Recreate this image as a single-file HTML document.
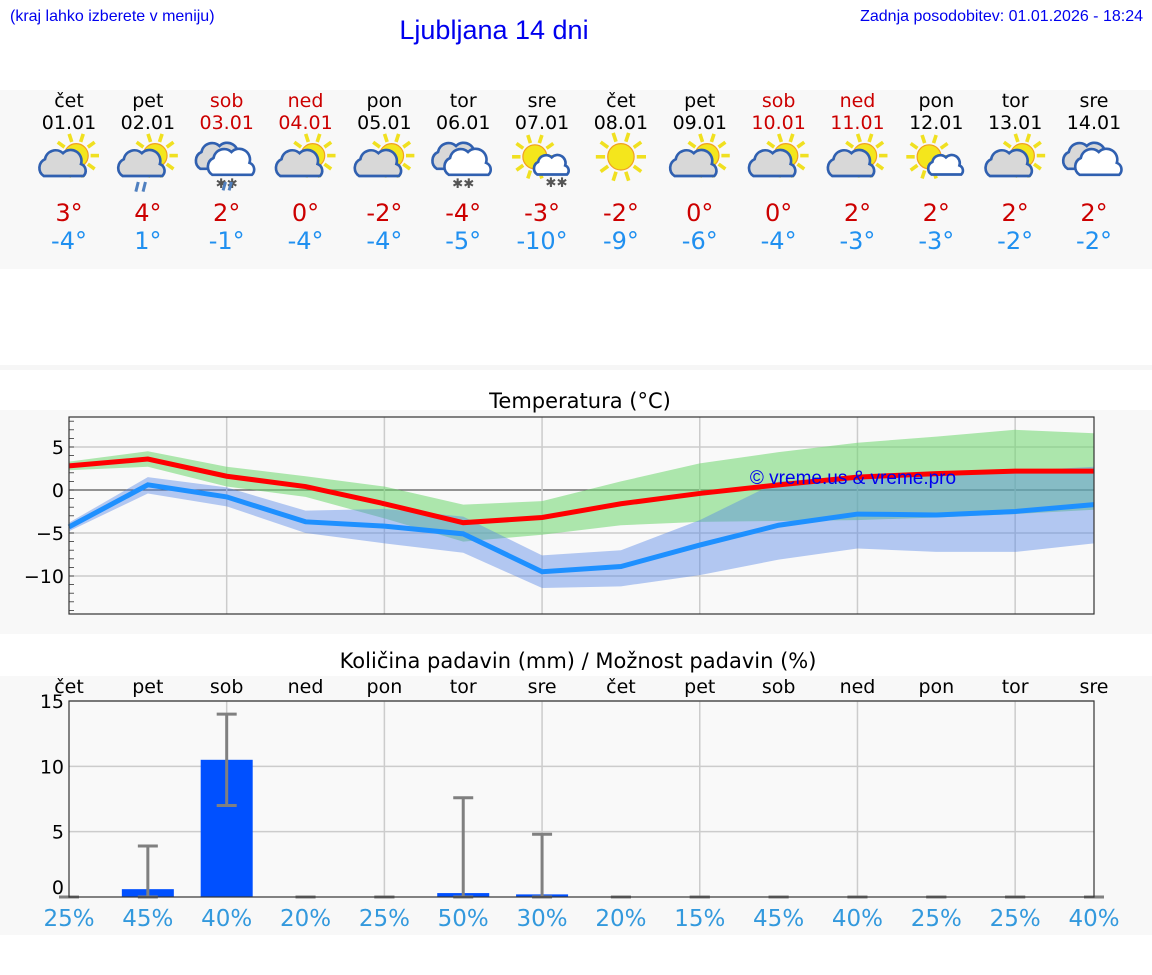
<!DOCTYPE html>
<html><head><meta charset="utf-8"><style>
body{margin:0;background:#fff;width:1152px;height:975px;overflow:hidden;font-family:"Liberation Sans","DejaVu Sans",sans-serif}
svg{display:block}
text{font-family:"DejaVu Sans","Liberation Sans",sans-serif}
.lib{font-family:"Liberation Sans",sans-serif}
</style></head><body>
<svg id="s" width="1152" height="975" viewBox="0 0 1152 975">
<rect x="0" y="90" width="1152" height="179" fill="#f8f8f8"/>
<rect x="0" y="365" width="1152" height="5" fill="#f6f6f6"/>
<rect x="0" y="410" width="1152" height="224" fill="#f8f8f8"/>
<rect x="0" y="676" width="1152" height="259" fill="#f8f8f8"/>
<text class="lib" x="10" y="21" font-size="16" fill="#0000ee">(kraj lahko izberete v meniju)</text>
<text class="lib" x="494" y="39" font-size="27" fill="#0000ee" text-anchor="middle">Ljubljana 14 dni</text>
<text class="lib" x="1143" y="21" font-size="16" fill="#0000ee" text-anchor="end">Zadnja posodobitev: 01.01.2026 - 18:24</text>
<text x="580" y="408" font-size="21" text-anchor="middle" fill="#000">Temperatura (°C)</text>
<text x="578" y="668" font-size="21" text-anchor="middle" fill="#000">Količina padavin (mm) / Možnost padavin (%)</text>
<g id="days"></g>
<g id="temp"></g>
<g id="prec"></g>
</svg>
<script>
const dayNames=['čet','pet','sob','ned','pon','tor','sre','čet','pet','sob','ned','pon','tor','sre'];
const dates=['01.01','02.01','03.01','04.01','05.01','06.01','07.01','08.01','09.01','10.01','11.01','12.01','13.01','14.01'];
const weekend=[0,0,1,1,0,0,0,0,0,1,1,0,0,0];
const icons=['pc','pcr','cs','pc','pc','cn','sn','s','pc','pc','pc','ps','pc','c'];
const maxT=[3,4,2,0,-2,-4,-3,-2,0,0,2,2,2,2];
const minT=[-4,1,-1,-4,-4,-5,-10,-9,-6,-4,-3,-3,-2,-2];
const tMax=[2.8,3.6,1.6,0.4,-1.6,-3.8,-3.2,-1.6,-0.4,0.6,1.5,1.9,2.2,2.2];
const tMaxHi=[3.3,4.5,2.7,1.6,0.4,-1.7,-1.3,1.0,3.1,4.4,5.5,6.2,7.0,6.6];
const tMaxLo=[2.3,2.7,0.4,-0.8,-3.3,-6.0,-5.2,-4.1,-3.7,-3.6,-3.5,-3.2,-2.8,-2.3];
const tMin=[-4.3,0.6,-0.8,-3.7,-4.2,-5.1,-9.5,-8.9,-6.4,-4.1,-2.8,-2.9,-2.5,-1.7];
const tMinHi=[-3.8,1.5,0.3,-2.4,-2.2,-3.1,-7.6,-7.0,-3.5,1.0,1.4,1.8,2.2,2.7];
const tMinLo=[-4.8,-0.4,-1.9,-5.0,-6.2,-7.3,-11.4,-11.2,-9.9,-8.1,-6.8,-7.2,-7.2,-6.2];
const tTicks=[5,0,-5,-10];
const precip=[0,0.6,10.5,0,0,0.3,0.2,0,0,0,0,0,0,0];
const errHi=[0,3.9,14,0,0,7.6,4.8,0,0,0,0,0,0,0];
const errLo=[0,0,7.0,0,0,0,0,0,0,0,0,0,0,0];
const chance=['25%','45%','40%','20%','25%','50%','30%','20%','15%','45%','40%','25%','25%','40%'];
const pTicks=[15,10,5,0];

const NS='http://www.w3.org/2000/svg';
function E(p,tag,a,txt){const e=document.createElementNS(NS,tag);for(const k in a)e.setAttribute(k,a[k]);if(txt!==undefined)e.textContent=txt;p.appendChild(e);return e;}
const X=i=>69+i*(1094-69)/13;
const TY=v=>490-v*8.6;
const PY=v=>897-v*(196/15);

const dg=document.getElementById('days');
function sun(g,cx,cy,r){
  for(let k=0;k<10;k++){const a=k*Math.PI/5;E(g,'line',{x1:cx+Math.cos(a)*r*1.2,y1:cy+Math.sin(a)*r*1.2,x2:cx+Math.cos(a)*r*1.9,y2:cy+Math.sin(a)*r*1.9,stroke:'#f0e020','stroke-width':3});}
  E(g,'circle',{cx:cx,cy:cy,r:r,fill:'#f4e61c',stroke:'#f0a020','stroke-width':1});
}
function cloud(g,cx,cy,s,fill){
  const q=v=>v*s;
  E(g,'path',{d:`M${cx-q(16)},${cy+q(9)} a${q(8)} ${q(8)} 0 0 1 ${q(1)},${q(-14)} a${q(9)} ${q(9)} 0 0 1 ${q(15)},${q(-5)} a${q(9)} ${q(9)} 0 0 1 ${q(15)},${q(9)} a${q(6)} ${q(6)} 0 0 1 ${q(2)},${q(10)} z`,fill:fill,stroke:'#3060b0','stroke-width':2.2});
}
function flakes(g,cx,cy){E(g,'text',{x:cx,y:cy,'font-size':11,fill:'#555','text-anchor':'middle'},'✱✱');}
for(let i=0;i<14;i++){
  const x=X(i),g=E(dg,'g',{});
  
  
  const col=weekend[i]?'#cc0000':'#000';
  E(g,'text',{x:x,y:107,'font-size':19,'text-anchor':'middle',fill:col},dayNames[i]);
  E(g,'text',{x:x,y:129,'font-size':19,'text-anchor':'middle',fill:col},dates[i]);
  const ic=E(g,'g',{transform:`translate(${x},158) scale(1.2) translate(${-x},-158)`});
  
  
  const t=icons[i],cy=160;
  if(t==='pc'||t==='pcr'){sun(ic,x+6,cy-4,10);cloud(ic,x-5,cy+4,1,'#d8d8d8');}
  if(t==='pcr'){E(ic,'path',{d:`M${x-10},${cy+26} l2,-8 M${x-4},${cy+26} l2,-8`,stroke:'#5080c0','stroke-width':2.5});}
  if(t==='cs'||t==='cn'||t==='c'){cloud(ic,x-6,cy-2,1,'#d8d8d8');cloud(ic,x+4,cy+3,1,'#fff');}
  if(t==='cs'){flakes(ic,x,cy+23);E(ic,'path',{d:`M${x-3},${cy+25} l2,-7 M${x+2},${cy+25} l2,-7`,stroke:'#5080c0','stroke-width':2.5});}
  if(t==='cn'){flakes(ic,x,cy+23);}
  if(t==='s'){sun(ic,x,cy-3,11);}
  if(t==='sn'||t==='ps'){sun(ic,x-6,cy-3,10);cloud(ic,x+8,cy+5,0.75,'#fff');}
  if(t==='sn'){flakes(ic,x+12,cy+22);}
  E(g,'text',{x:x,y:221,'font-size':24,'text-anchor':'middle',fill:'#cc0000'},maxT[i]+'°');
  E(g,'text',{x:x,y:249,'font-size':24,'text-anchor':'middle',fill:'#2090f0'},minT[i]+'°');
}

const tg=document.getElementById('temp');
E(tg,'rect',{x:69,y:417,width:1025,height:197,fill:'#f9f9f9'});
for(const v of tTicks){E(tg,'line',{x1:69,x2:1094,y1:TY(v),y2:TY(v),stroke:v===0?'#555':'#ccc','stroke-width':v===0?1.3:1.5});
  const l=E(tg,'text',{x:64,y:TY(v)+7,'font-size':19,'text-anchor':'end'},v<0?'−'+(-v):String(v));
  }
for(let v=-14;v<=8;v++){E(tg,'line',{x1:69,x2:74,y1:TY(v),y2:TY(v),stroke:'#333','stroke-width':0.8});}
for(let i=2;i<13;i+=2)E(tg,'line',{x1:X(i),x2:X(i),y1:417,y2:614,stroke:'#ccc','stroke-width':1.5});
function band(hi,lo,fill,name){let d='';hi.forEach((v,i)=>d+=(i?'L':'M')+X(i)+','+TY(v));for(let i=lo.length-1;i>=0;i--)d+='L'+X(i)+','+TY(lo[i]);
  const p=E(tg,'path',{d:d+'Z',fill:fill});}
band(tMaxHi,tMaxLo,'rgba(110,215,110,0.55)','max-temp-range');
band(tMinHi,tMinLo,'rgba(80,130,230,0.42)','min-temp-range');
function line(v,c,name){const p=E(tg,'polyline',{points:v.map((y,i)=>X(i)+','+TY(y)).join(' '),fill:'none',stroke:c,'stroke-width':5});}
line(tMin,'#1e90ff','min-temp-line');
line(tMax,'#ff0000','max-temp-line');
const wm=E(tg,'text',{x:853,y:484,'font-size':19,'text-anchor':'middle',fill:'#0000ee',class:'lib'},'© vreme.us & vreme.pro');

E(tg,'rect',{x:69,y:417,width:1025,height:197,fill:'none',stroke:'#333','stroke-width':1.2});

const pg=document.getElementById('prec');
E(pg,'rect',{x:69,y:701,width:1025,height:196,fill:'#f9f9f9'});
for(const v of pTicks){if(v)E(pg,'line',{x1:69,x2:1094,y1:PY(v),y2:PY(v),stroke:'#ccc','stroke-width':1.5});
  const l=E(pg,'text',{x:64,y:PY(v)+7-(v===0?10:0),'font-size':19,'text-anchor':'end'},String(v));
  }
for(let i=2;i<13;i+=2)E(pg,'line',{x1:X(i),x2:X(i),y1:701,y2:897,stroke:'#ccc','stroke-width':1.5});
for(let i=0;i<14;i++){
  const x=X(i);
  const dl=E(pg,'text',{x:x,y:693,'font-size':19,'text-anchor':'middle'},dayNames[i]);
  
  if(precip[i]>0){const b=E(pg,'rect',{x:x-26,y:PY(precip[i]),width:52,height:897-PY(precip[i]),fill:'#0050ff'});
    }
  const eg=E(pg,'g',{stroke:'#808080','stroke-width':3});
  
  E(eg,'line',{x1:x,x2:x,y1:PY(errHi[i]),y2:PY(errLo[i])});
  E(eg,'line',{x1:x-10,x2:x+10,y1:PY(errHi[i]),y2:PY(errHi[i])});
  E(eg,'line',{x1:x-10,x2:x+10,y1:PY(errLo[i]),y2:PY(errLo[i])});
  const cl=E(pg,'text',{x:x,y:926,'font-size':23,'text-anchor':'middle',fill:'#3399dd'},chance[i]);
  
}
E(pg,'rect',{x:69,y:701,width:1025,height:196,fill:'none',stroke:'#333','stroke-width':1.2});
</script>
</body></html>
